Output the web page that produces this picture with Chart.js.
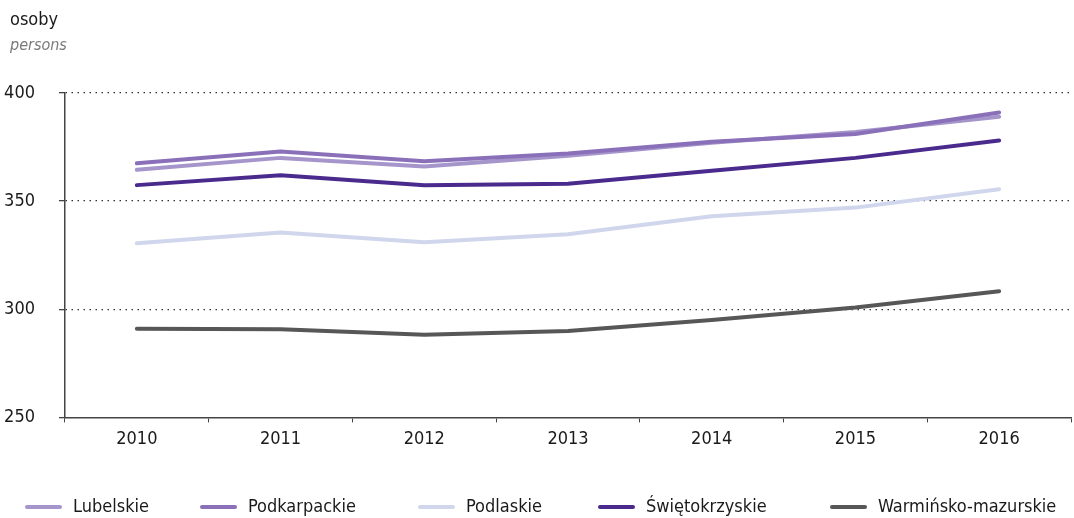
<!DOCTYPE html>
<html><head><meta charset="utf-8">
<script src="https://cdn.jsdelivr.net/npm/chart.js@4.4.1/dist/chart.umd.min.js"></script>
<style>html,body{margin:0;padding:0;background:#fff;}#wrap{width:1074px;height:518px;position:relative;}</style>
</head><body><div id="wrap"><canvas id="c" width="1074" height="518"></canvas></div>
<script>
const years = ['2010','2011','2012','2013','2014','2015','2016'];
const lubelskie = [364.5, 370, 366, 371, 377, 382, 389];
const podkarpackie = [367.5, 373, 368.5, 372, 377.5, 381, 391];
const podlaskie = [330.5, 335.5, 331, 334.7, 343, 347, 355.5];
const swietokrzyskie = [357.4, 362, 357.4, 358, 364, 370, 378];
const warminsko = [291, 290.8, 288.2, 290, 295, 300.8, 308.3];
const seriesNames = ['Lubelskie','Podkarpackie','Podlaskie','Świętokrzyskie','Warmińsko-mazurskie'];
const yTicks = [250, 300, 350, 400];

const FONT = "'DejaVu Sans Condensed','Liberation Sans Narrow',sans-serif";
const colors = ['#a595cb','#8a70b9','#d0d6ec','#4b2a8d','#575757'];
const legendX = [25, 200, 418, 598, 830];

const ds = [lubelskie, podkarpackie, podlaskie, swietokrzyskie, warminsko].map((d,i)=>({
  label: seriesNames[i], data: d, borderColor: colors[i], backgroundColor: colors[i],
  borderWidth: 4, pointRadius: 0, tension: 0, fill: false, borderCapStyle: 'round'
}));
const order = [2,0,1,3,4];
order.forEach((idx,k)=>{ ds[idx].order = 5-k; });

const headerLegend = {
  id: 'headerLegend',
  afterDraw(chart){
    const ctx = chart.ctx;
    ctx.save();
    ctx.textBaseline = 'middle';
    ctx.textAlign = 'left';
    ctx.fillStyle = '#1a1a1a';
    ctx.font = '18px ' + FONT;
    ctx.fillText('osoby', 10, 20);
    ctx.fillStyle = '#7a7a7a';
    ctx.font = 'italic 16px ' + FONT;
    ctx.fillText('persons', 10, 46);
    chart.data.datasets.forEach((d,i)=>{
      const x = legendX[i], y = 507;
      ctx.strokeStyle = d.borderColor; ctx.lineWidth = 4; ctx.lineCap = 'round';
      ctx.beginPath(); ctx.moveTo(x+2, y); ctx.lineTo(x+35, y); ctx.stroke();
      ctx.fillStyle = '#1a1a1a'; ctx.font = '18px ' + FONT;
      ctx.fillText(d.label, x+48, y);
    });
    ctx.restore();
  }
};

new Chart(document.getElementById('c'), {
  type: 'line',
  data: { labels: years, datasets: ds },
  options: {
    responsive: false, animation: false,
    layout: { padding: { left: 0, right: 3, top: 93, bottom: 62 } },
    plugins: { legend: { display: false }, tooltip: { enabled: false } },
    scales: {
      x: {
        offset: true,
        grid: { offset: true, drawOnChartArea: false, drawTicks: true, tickLength: 5, color: '#444', lineWidth: 1 },
        border: { display: true, color: '#444', width: 1.5 },
        ticks: { color: '#1a1a1a', font: { family: FONT, size: 18 }, padding: 6 }
      },
      y: {
        min: 250, max: 400,
        afterFit(a){ a.width = 65; },
        afterBuildTicks(a){ a.ticks = yTicks.map(v=>({value:v})); },
        grid: { color: (c)=> c.tick && c.tick.value===250 ? 'rgba(0,0,0,0)' : '#333', lineWidth: 1.3, tickColor: '#444', tickLength: 6, tickBorderDash: [] },
        border: { display: true, color: '#444', width: 1.5, dash: [1.5, 4.5] },
        ticks: { color: '#1a1a1a', font: { family: FONT, size: 18 }, padding: 24 }
      }
    }
  },
  plugins: [headerLegend]
});
</script></body></html>
